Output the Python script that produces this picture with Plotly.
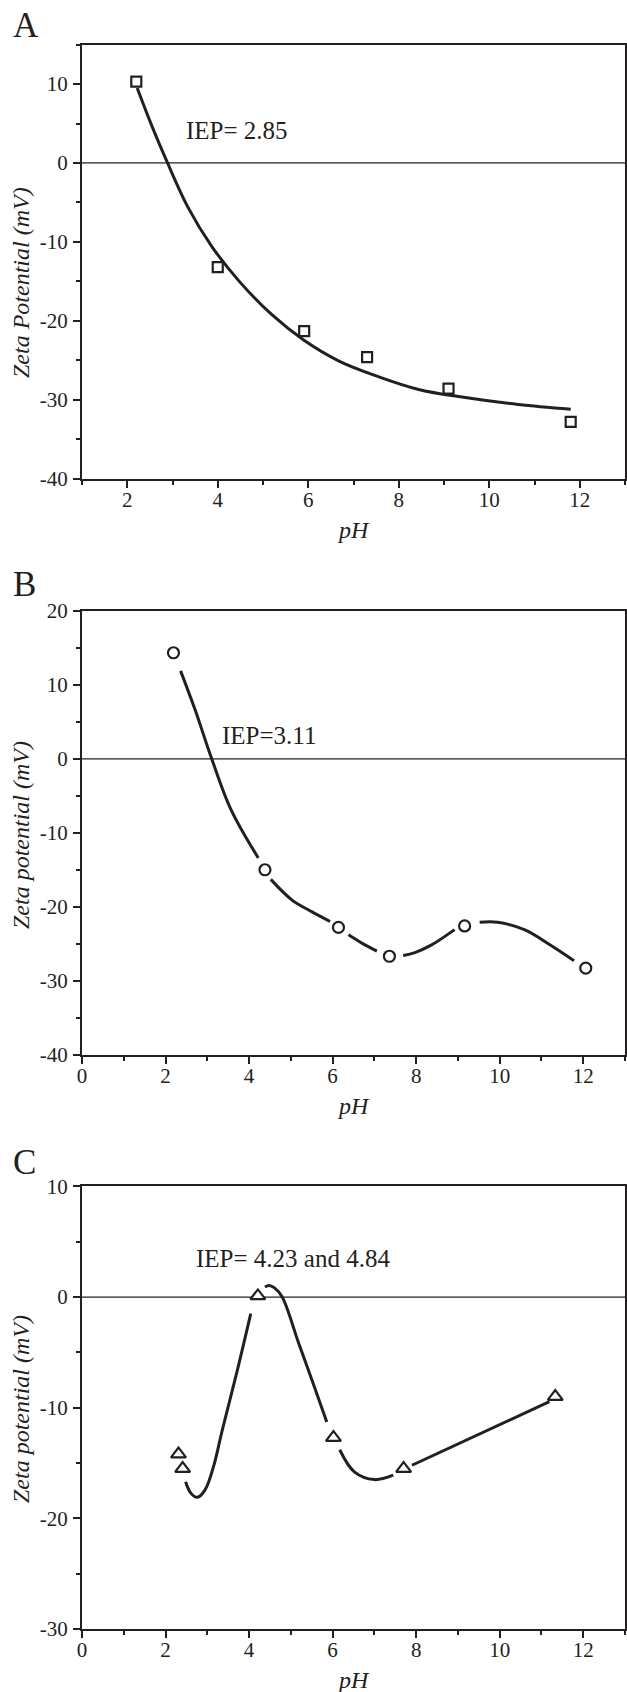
import plotly.graph_objects as go

W, H = 627, 1692
INK = "#231f20"
FONT = "Liberation Serif"

# ---------------- data ----------------
# Panel A
a_ph = [2.2, 4.0, 5.91, 7.3, 9.1, 11.8]
a_zeta = [10.3, -13.2, -21.3, -24.6, -28.6, -32.8]
a_fit_ph = [2.22, 2.55, 2.89, 3.34, 3.87, 4.49, 5.19, 5.89, 6.68, 7.56, 8.44, 9.32, 10.64, 11.80]
a_fit_zeta = [9.5, 4.6, 0.0, -5.6, -10.6, -15.1, -19.2, -22.4, -25.1, -27.1, -28.7, -29.6, -30.6, -31.2]

# Panel B
b_ph = [2.19, 4.38, 6.14, 7.36, 9.16, 12.06]
b_zeta = [14.35, -15.0, -22.8, -26.7, -22.6, -28.3]
b_curve_ph = [2.36, 2.71, 3.10, 3.57, 4.22, None,
              4.52, 5.03, 5.51, 5.94, None,
              6.38, 6.71, 7.06, None,
              7.69, 7.97, 8.36, 8.92, None,
              9.52, 9.95, 10.59, 11.22, 11.78]
b_curve_zeta = [11.9, 6.6, 0.1, -6.9, -13.4, None,
                -16.3, -19.1, -20.7, -22.0, None,
                -23.8, -24.95, -26.0, None,
                -26.6, -26.2, -25.2, -23.1, None,
                -22.1, -22.1, -23.1, -25.2, -27.3]

# Panel C
c_ph = [2.31, 2.41, 4.21, 6.02, 7.70, 11.33]
c_zeta = [-14.2, -15.5, 0.1, -12.7, -15.5, -9.0]
c_curve_ph = [2.48, 2.6, 2.76, 2.95, 3.15, 3.36, 3.72, 4.04, None,
              4.38, 4.48, 4.6, 4.79, 5.19, 5.59, 5.86, None,
              6.17, 6.52, 7.0, 7.45, None,
              7.90, 11.19]
c_curve_zeta = [-16.7, -17.7, -18.1, -17.4, -15.3, -12.0, -6.6, -1.5, None,
                0.9, 1.05, 0.85, 0.03, -4.2, -8.4, -11.3, None,
                -13.8, -15.8, -16.5, -16.1, None,
                -15.2, -9.46]

# axis ranges and tick labels
a_xrange, a_yrange = [1, 13], [-40, 15]
b_xrange, b_yrange = [0, 13], [-40, 20]
c_xrange, c_yrange = [0, 13], [-30, 10]
a_xticks = [2, 4, 6, 8, 10, 12]
bc_xticks = [0, 2, 4, 6, 8, 10, 12]
a_yticks = [-40, -30, -20, -10, 0, 10]
b_yticks = [-40, -30, -20, -10, 0, 10, 20]
c_yticks = [-30, -20, -10, 0, 10]

panel_letters = ["A", "B", "C"]
iep_texts = ["IEP= 2.85", "IEP=3.11", "IEP= 4.23 and 4.84"]
ytitles = ["<i>Zeta Potential (mV)</i>", "<i>Zeta potential (mV)</i>", "<i>Zeta potential (mV)</i>"]
xtitle = "<i>pH</i>"

# ---------------- layout geometry (pixels) ----------------
plot_left, plot_right = 82, 625
panels_px = [(44.6, 478.6), (611.0, 1054.6), (1186.4, 1629.0)]  # (top, bottom)
letter_y = [25, 584, 1162]
ytitle_y = [283, 835, 1409]


def fx(px):
    return px / W


def fy(px):
    return 1 - px / H


def lab(v):
    return str(v)  # plain hyphen-minus as in the original


fig = go.Figure()

sets = [
    (a_ph, a_zeta, a_fit_ph, a_fit_zeta, "square", 10),
    (b_ph, b_zeta, b_curve_ph, b_curve_zeta, "circle", 11),
    (c_ph, c_zeta, c_curve_ph, c_curve_zeta, "triangle-up", 13),
]

for i, (px_, pz_, cx_, cz_, sym, msize) in enumerate(sets):
    xa = "x" if i == 0 else f"x{i+1}"
    ya = "y" if i == 0 else f"y{i+1}"
    fig.add_trace(go.Scatter(x=cx_, y=cz_, mode="lines", xaxis=xa, yaxis=ya,
                             line=dict(color=INK, width=3, shape="spline", smoothing=1.0),
                             connectgaps=False, showlegend=False, hoverinfo="skip"))
    fig.add_trace(go.Scatter(x=px_, y=pz_, mode="markers", xaxis=xa, yaxis=ya,
                             marker=dict(symbol=sym, size=msize, color="white",
                                         line=dict(color=INK, width=2.2)),
                             showlegend=False))

ranges = [(a_xrange, a_yrange, a_xticks, a_yticks),
          (b_xrange, b_yrange, bc_xticks, b_yticks),
          (c_xrange, c_yrange, bc_xticks, c_yticks)]

for i, ((xr, yr, xt, yt), (top, bot)) in enumerate(zip(ranges, panels_px)):
    common = dict(showline=True, linewidth=2, linecolor=INK, mirror=True,
                  ticks="outside", ticklen=7, tickwidth=2, tickcolor=INK,
                  tickfont=dict(family=FONT, size=21, color=INK),
                  showgrid=False, zeroline=False, automargin=False)
    xkey = "xaxis" if i == 0 else f"xaxis{i+1}"
    ykey = "yaxis" if i == 0 else f"yaxis{i+1}"
    yname = "y" if i == 0 else f"y{i+1}"
    xname = "x" if i == 0 else f"x{i+1}"
    fig.update_layout({
        xkey: dict(common, range=xr, tickmode="array", tickvals=xt, ticktext=[lab(v) for v in xt],
                   anchor=yname, domain=[fx(plot_left), fx(plot_right)], ticklabelstandoff=-6,
                   minor=dict(ticks="outside", ticklen=4, tickwidth=1.5, tickcolor=INK, dtick=1, tick0=0)),
        ykey: dict(common, range=yr, tickmode="array", tickvals=yt, ticktext=[lab(v) for v in yt],
                   anchor=xname, domain=[fy(bot), fy(top)], ticklabelstandoff=1,
                   minor=dict(ticks="outside", ticklen=4, tickwidth=1.5, tickcolor=INK, dtick=5, tick0=0)),
    })
    # zero line
    fig.add_shape(type="line", xref=f"{xname} domain", yref=yname, x0=0, x1=1, y0=0, y1=0,
                  line=dict(color=INK, width=1.2), layer="below")
    # panel letter
    fig.add_annotation(text=panel_letters[i], xref="paper", yref="paper",
                       x=fx(11), y=fy(letter_y[i]), xanchor="left", yanchor="middle",
                       showarrow=False, font=dict(family=FONT, size=35, color=INK))
    # axis titles
    fig.add_annotation(text=xtitle, xref="paper", yref="paper",
                       x=fx((plot_left + plot_right) / 2), y=fy(bot + 51),
                       xanchor="center", yanchor="middle", showarrow=False,
                       font=dict(family=FONT, size=24, color=INK))
    fig.add_annotation(text=ytitles[i], xref="paper", yref="paper",
                       x=fx(21), y=fy(ytitle_y[i]), textangle=-90,
                       xanchor="center", yanchor="middle", showarrow=False,
                       font=dict(family=FONT, size=24, color=INK))

# IEP annotations (data coordinates)
fig.add_annotation(text=iep_texts[0], xref="x", yref="y", x=4.42, y=4.16,
                   showarrow=False, font=dict(family=FONT, size=25, color=INK))
fig.add_annotation(text=iep_texts[1], xref="x2", yref="y2", x=4.48, y=3.1,
                   showarrow=False, font=dict(family=FONT, size=25, color=INK))
fig.add_annotation(text=iep_texts[2], xref="x3", yref="y3", x=5.06, y=3.44,
                   showarrow=False, font=dict(family=FONT, size=25, color=INK))

fig.update_layout(width=W, height=H, margin=dict(l=0, r=0, t=0, b=0, autoexpand=False),
                  font=dict(family=FONT, color=INK),
                  paper_bgcolor="white", plot_bgcolor="white", showlegend=False)

fig.write_html("out.html")
